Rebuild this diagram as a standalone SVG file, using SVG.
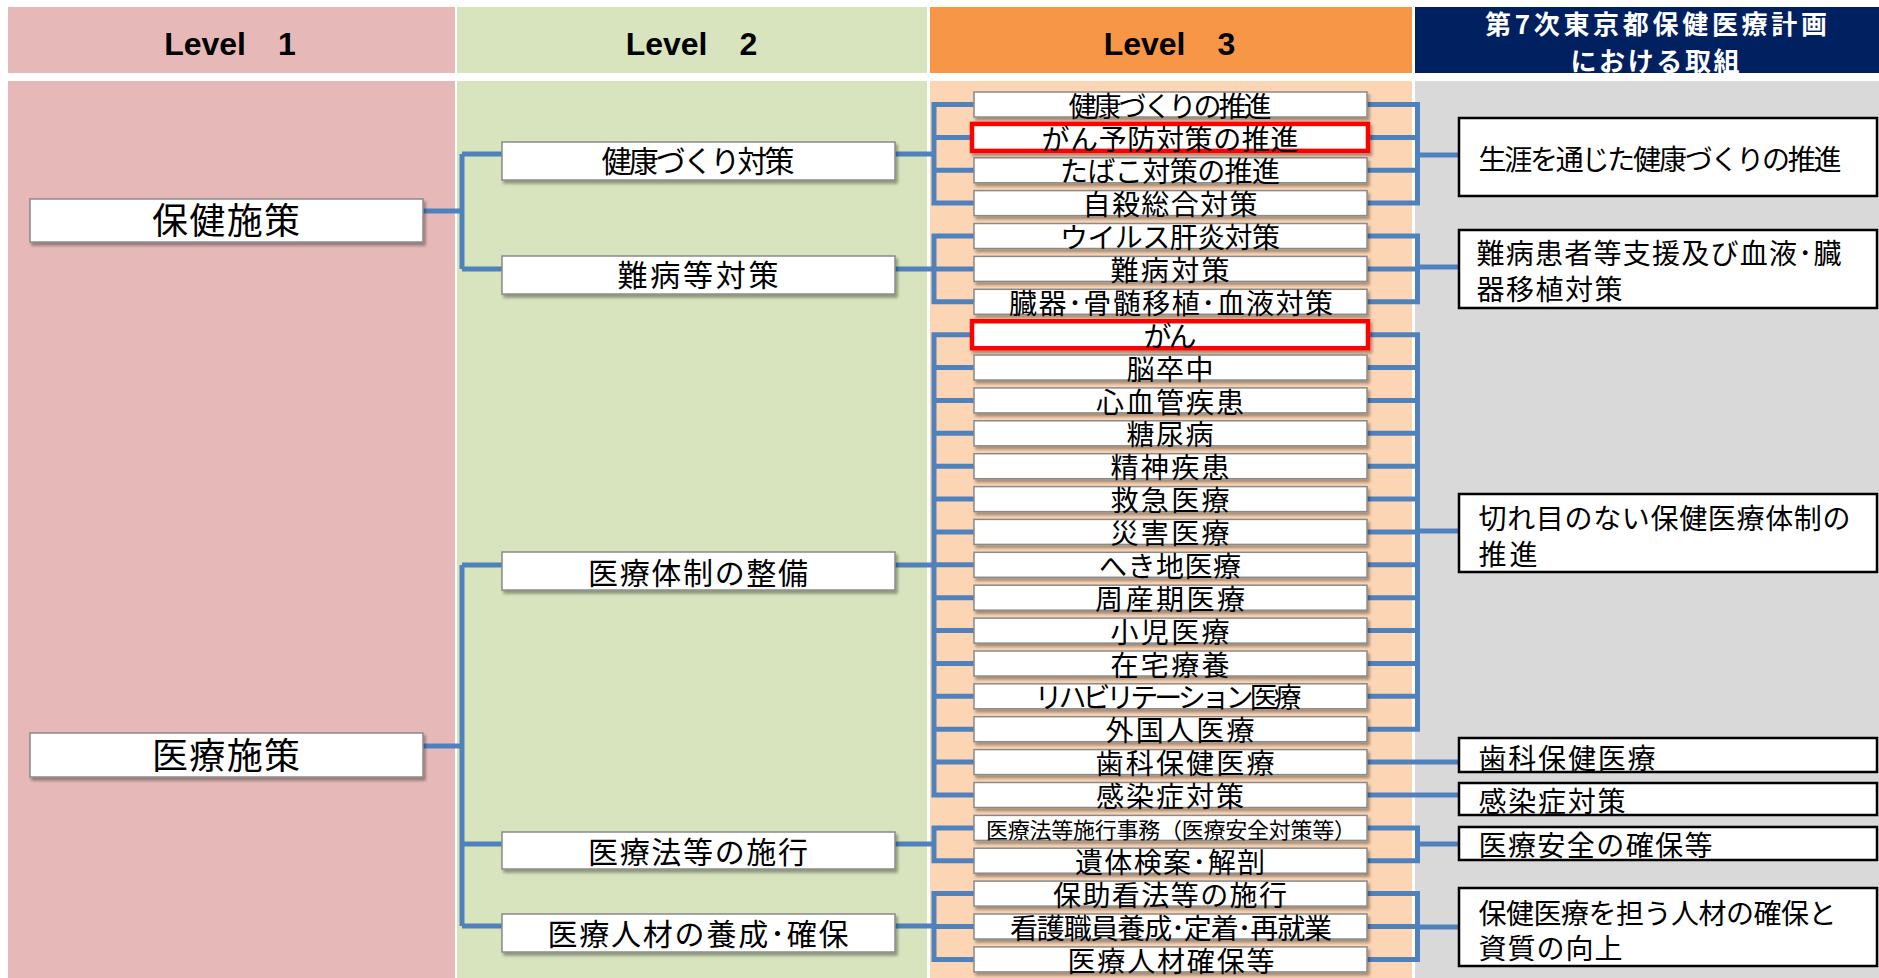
<svg xmlns="http://www.w3.org/2000/svg" width="1879" height="978" viewBox="0 0 1879 978">
<defs>
<filter id="sh" x="-5%" y="-30%" width="110%" height="170%">
<feDropShadow dx="2" dy="3" stdDeviation="1.5" flood-color="#000" flood-opacity="0.35"/>
</filter>
<clipPath id="hclip"><rect x="1415" y="7" width="464" height="66"/></clipPath>
</defs>
<style>
.lvl{font-family:"Liberation Sans","Noto Sans CJK JP",sans-serif;font-weight:bold;font-size:32px;fill:#000;text-anchor:middle}
.hdr{font-family:"Noto Sans CJK JP",sans-serif;font-weight:bold;font-size:26px;fill:#fff;text-anchor:middle}
.box{fill:#fff;stroke:#8a8a8a;stroke-width:1.5;filter:url(#sh)}
.red{fill:#fff;stroke:#ff0000;stroke-width:4.5;filter:url(#sh)}
.rbox{fill:#fff;stroke:#000;stroke-width:2.5}
.t1{font-family:"Noto Sans CJK JP",sans-serif;font-size:36px;fill:#000;text-anchor:middle}
.t2{font-family:"Noto Sans CJK JP",sans-serif;font-size:30px;fill:#000;text-anchor:middle}
.t3{font-family:"Noto Sans CJK JP",sans-serif;font-size:28px;fill:#000;text-anchor:middle}
.t3s{font-family:"Noto Sans CJK JP",sans-serif;font-size:22px;fill:#000;text-anchor:middle}
.tr{font-family:"Noto Sans CJK JP",sans-serif;font-size:28px;fill:#000;text-anchor:start}
.con{fill:none;stroke:#4f81bd;stroke-width:5;stroke-linejoin:miter;stroke-linecap:butt}
</style>
<rect x="0" y="0" width="1879" height="978" fill="#fff"/>
<g id="background">
<rect x="8" y="7" width="447" height="66" fill="#e6b9b8"/>
<rect x="457" y="7" width="470" height="66" fill="#d7e4bd"/>
<rect x="930" y="7" width="482" height="66" fill="#f79646"/>
<rect x="1415" y="7" width="464" height="66" fill="#002060"/>
<rect x="8" y="81" width="447" height="897" fill="#e6b9b8"/>
<rect x="457" y="81" width="470" height="897" fill="#d7e4bd"/>
<rect x="930" y="81" width="482" height="897" fill="#fcd5b4"/>
<rect x="1415" y="81" width="464" height="897" fill="#d9d9d9"/>
</g>
<g id="headers">
<text class="lvl" x="230" y="55" xml:space="preserve">Level　1</text>
<text class="lvl" x="691.5" y="55" xml:space="preserve">Level　2</text>
<text class="lvl" x="1169.5" y="55" xml:space="preserve">Level　3</text>
<g clip-path="url(#hclip)">
<text class="hdr" x="1656" y="33.5" textLength="342" lengthAdjust="spacing">第7次東京都保健医療計画</text>
<text class="hdr" x="1655" y="70.5" textLength="169" lengthAdjust="spacing">における取組</text>
</g>
</g>
<g id="connectors">
<path class="con" d="M423 211H462M462 154V269M462 154H502M462 269H502"/>
<path class="con" d="M423 746H462M462 565V926M462 565H502M462 844H502M462 926H502"/>
<path class="con" d="M895 154H934M895 269H934M895 565H934M895 844H934M895 926H934"/>
<path class="con" d="M974 104.5H934V203.1H974M934 137.4H974M934 170.3H974"/>
<path class="con" d="M974 236H934V301.8H974M934 268.9H974"/>
<path class="con" d="M974 334.7H934V795H974M934 367.5H974M934 400.4H974M934 433.3H974M934 466.2H974M934 499.1H974M934 531.9H974M934 564.8H974M934 597.7H974M934 630.6H974M934 663.5H974M934 696.3H974M934 729.2H974M934 762.1H974"/>
<path class="con" d="M974 827.9H934V860.7H974"/>
<path class="con" d="M974 893.6H934V959.4H974M934 926.5H974"/>
<path class="con" d="M1367 104.5H1417.5V203.1H1367M1367 137.4H1417.5M1367 170.3H1417.5M1417.5 155H1458"/>
<path class="con" d="M1367 236H1417.5V301.8H1367M1367 268.9H1417.5M1417.5 267H1458"/>
<path class="con" d="M1367 334.7H1417.5V729.2H1367M1367 367.5H1417.5M1367 400.4H1417.5M1367 433.3H1417.5M1367 466.2H1417.5M1367 499.1H1417.5M1367 531.9H1417.5M1367 564.8H1417.5M1367 597.7H1417.5M1367 630.6H1417.5M1367 663.5H1417.5M1367 696.3H1417.5M1417.5 531H1458"/>
<path class="con" d="M1367 762.1H1458M1367 795H1458"/>
<path class="con" d="M1367 827.9H1417.5V860.7H1367M1417.5 844H1458"/>
<path class="con" d="M1367 893.6H1417.5V959.4H1367M1367 926.5H1417.5M1417.5 927H1458"/>
</g>
<g id="level1">
<g id="n-hoken-shisaku"><rect class="box" x="30" y="199" width="393" height="43"/><text class="t1" x="226" y="234.2" textLength="148" lengthAdjust="spacing">保健施策</text></g>
<g id="n-iryo-shisaku"><rect class="box" x="30" y="733" width="393" height="44"/><text class="t1" x="226" y="768.7" textLength="148" lengthAdjust="spacing">医療施策</text></g>
</g>
<g id="level2">
<g id="n-kenko-taisaku"><rect class="box" x="502" y="142" width="393" height="38"/><text class="t2" x="698" y="171.9" textLength="193" lengthAdjust="spacing">健康づくり対策</text></g>
<g id="n-nanbyo-taisaku"><rect class="box" x="502" y="256" width="393" height="38"/><text class="t2" x="698" y="286.4" textLength="161" lengthAdjust="spacing">難病等対策</text></g>
<g id="n-iryo-taisei"><rect class="box" x="502" y="552" width="393" height="38"/><text class="t2" x="698" y="583.9" textLength="220" lengthAdjust="spacing">医療体制の整備</text></g>
<g id="n-iryoho"><rect class="box" x="502" y="832" width="393" height="37"/><text class="t2" x="698" y="862.9" textLength="220" lengthAdjust="spacing">医療法等の施行</text></g>
<g id="n-jinzai"><rect class="box" x="502" y="914" width="393" height="38"/><text class="t2" x="698" y="944.9" textLength="301" lengthAdjust="spacing">医療人材の養成･確保</text></g>
</g>
<g id="level3">
<g id="r0"><rect class="box" x="974" y="92" width="393" height="25"/><text class="t3" x="1170" y="116.6" textLength="203" lengthAdjust="spacing">健康づくりの推進</text></g>
<g id="r1"><rect class="red" x="972" y="123.9" width="396" height="27"/><text class="t3" x="1170" y="149.5" textLength="257" lengthAdjust="spacing">がん予防対策の推進</text></g>
<g id="r2"><rect class="box" x="974" y="157.8" width="393" height="25"/><text class="t3" x="1170" y="182.4" textLength="220" lengthAdjust="spacing">たばこ対策の推進</text></g>
<g id="r3"><rect class="box" x="974" y="190.6" width="393" height="25"/><text class="t3" x="1170" y="215.2" textLength="175" lengthAdjust="spacing">自殺総合対策</text></g>
<g id="r4"><rect class="box" x="974" y="223.5" width="393" height="25"/><text class="t3" x="1170" y="248.1" textLength="220" lengthAdjust="spacing">ウイルス肝炎対策</text></g>
<g id="r5"><rect class="box" x="974" y="256.4" width="393" height="25"/><text class="t3" x="1170" y="281" textLength="119" lengthAdjust="spacing">難病対策</text></g>
<g id="r6"><rect class="box" x="974" y="289.3" width="393" height="25"/><text class="t3" x="1171" y="313.9" textLength="324" lengthAdjust="spacing">臓器･骨髄移植･血液対策</text></g>
<g id="r7"><rect class="red" x="972" y="321.2" width="396" height="27"/><text class="t3" x="1170" y="346.8" textLength="53" lengthAdjust="spacing">がん</text></g>
<g id="r8"><rect class="box" x="974" y="355" width="393" height="25"/><text class="t3" x="1170" y="379.6" textLength="87" lengthAdjust="spacing">脳卒中</text></g>
<g id="r9"><rect class="box" x="974" y="387.9" width="393" height="25"/><text class="t3" x="1170" y="412.5" textLength="148" lengthAdjust="spacing">心血管疾患</text></g>
<g id="r10"><rect class="box" x="974" y="420.8" width="393" height="25"/><text class="t3" x="1170" y="445.4" textLength="87" lengthAdjust="spacing">糖尿病</text></g>
<g id="r11"><rect class="box" x="974" y="453.7" width="393" height="25"/><text class="t3" x="1170" y="478.3" textLength="119" lengthAdjust="spacing">精神疾患</text></g>
<g id="r12"><rect class="box" x="974" y="486.6" width="393" height="25"/><text class="t3" x="1170" y="511.2" textLength="119" lengthAdjust="spacing">救急医療</text></g>
<g id="r13"><rect class="box" x="974" y="519.4" width="393" height="25"/><text class="t3" x="1170" y="544" textLength="119" lengthAdjust="spacing">災害医療</text></g>
<g id="r14"><rect class="box" x="974" y="552.3" width="393" height="25"/><text class="t3" x="1170" y="576.9" textLength="142" lengthAdjust="spacing">へき地医療</text></g>
<g id="r15"><rect class="box" x="974" y="585.2" width="393" height="25"/><text class="t3" x="1170" y="609.8" textLength="150" lengthAdjust="spacing">周産期医療</text></g>
<g id="r16"><rect class="box" x="974" y="618.1" width="393" height="25"/><text class="t3" x="1170" y="642.7" textLength="119" lengthAdjust="spacing">小児医療</text></g>
<g id="r17"><rect class="box" x="974" y="651" width="393" height="25"/><text class="t3" x="1170" y="675.6" textLength="119" lengthAdjust="spacing">在宅療養</text></g>
<g id="r18"><rect class="box" x="974" y="683.8" width="393" height="25"/><text class="t3" x="1168" y="708.4" textLength="267" lengthAdjust="spacing">リハビリテーション医療</text></g>
<g id="r19"><rect class="box" x="974" y="716.7" width="393" height="25"/><text class="t3" x="1180" y="741.3" textLength="149" lengthAdjust="spacing">外国人医療</text></g>
<g id="r20"><rect class="box" x="974" y="749.6" width="393" height="25"/><text class="t3" x="1185" y="774.2" textLength="179" lengthAdjust="spacing">歯科保健医療</text></g>
<g id="r21"><rect class="box" x="974" y="782.5" width="393" height="25"/><text class="t3" x="1170" y="807.1" textLength="148" lengthAdjust="spacing">感染症対策</text></g>
<g id="r22"><rect class="box" x="974" y="815.4" width="393" height="25"/><text class="t3s" x="1171" y="838.1" textLength="370" lengthAdjust="spacing">医療法等施行事務（医療安全対策等）</text></g>
<g id="r23"><rect class="box" x="974" y="848.2" width="393" height="25"/><text class="t3" x="1170" y="872.8" textLength="190" lengthAdjust="spacing">遺体検案･解剖</text></g>
<g id="r24"><rect class="box" x="974" y="881.1" width="393" height="25"/><text class="t3" x="1170" y="905.7" textLength="234" lengthAdjust="spacing">保助看法等の施行</text></g>
<g id="r25"><rect class="box" x="974" y="914" width="393" height="25"/><text class="t3" x="1171" y="938.6" textLength="322" lengthAdjust="spacing">看護職員養成･定着･再就業</text></g>
<g id="r26"><rect class="box" x="974" y="946.9" width="393" height="25"/><text class="t3" x="1171" y="971.5" textLength="207" lengthAdjust="spacing">医療人材確保等</text></g>
</g>
<g id="plan">
<g id="p1"><rect class="rbox" x="1459" y="118" width="418" height="78"/><text class="tr" x="1478.5" y="170" textLength="363" lengthAdjust="spacing">生涯を通じた健康づくりの推進</text></g>
<g id="p2"><rect class="rbox" x="1459" y="230" width="418" height="78"/><text class="tr" x="1476.5" y="264" textLength="365" lengthAdjust="spacing">難病患者等支援及び血液･臓</text><text class="tr" x="1476.5" y="300" textLength="146" lengthAdjust="spacing">器移植対策</text></g>
<g id="p3"><rect class="rbox" x="1459" y="494" width="418" height="78"/><text class="tr" x="1478.5" y="529" textLength="372" lengthAdjust="spacing">切れ目のない保健医療体制の</text><text class="tr" x="1478.5" y="565" textLength="59" lengthAdjust="spacing">推進</text></g>
<g id="p4"><rect class="rbox" x="1459" y="738" width="418" height="34"/><text class="tr" x="1478.5" y="768.5" textLength="177" lengthAdjust="spacing">歯科保健医療</text></g>
<g id="p5"><rect class="rbox" x="1459" y="783" width="418" height="32"/><text class="tr" x="1478.5" y="811.5" textLength="147" lengthAdjust="spacing">感染症対策</text></g>
<g id="p6"><rect class="rbox" x="1459" y="827" width="418" height="33"/><text class="tr" x="1478.5" y="856" textLength="234" lengthAdjust="spacing">医療安全の確保等</text></g>
<g id="p7"><rect class="rbox" x="1459" y="888" width="418" height="78"/><text class="tr" x="1478.5" y="924" textLength="358" lengthAdjust="spacing">保健医療を担う人材の確保と</text><text class="tr" x="1478.5" y="959" textLength="144" lengthAdjust="spacing">資質の向上</text></g>
</g>
</svg>
